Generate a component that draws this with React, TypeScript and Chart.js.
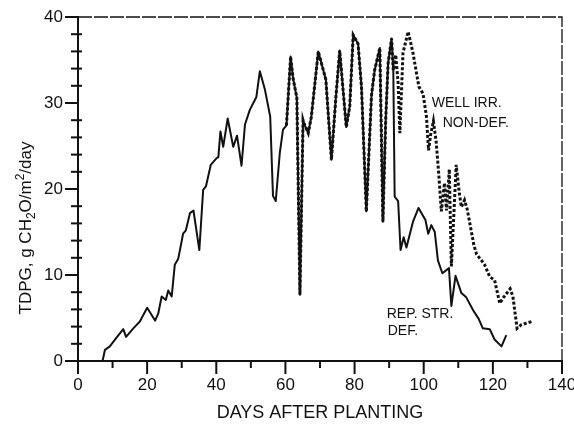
import React, { useEffect, useRef } from 'react';
import { Chart, registerables } from 'chart.js';

Chart.register(...registerables);

// REP. STR. DEF. (solid line)
const solidDays = [0, 7.1, 7.8, 9.2, 11.7, 13.1, 13.9, 16, 17.9, 20, 22.3, 23.2, 24.2, 25.4, 26.1, 27.1, 28, 29, 30.4, 31.2, 32.4, 33.4, 35.1, 36.2, 37, 38.4, 40.1, 40.6, 41.2, 42, 43.3, 44.9, 46, 47.3, 48.3, 49.7, 51.6, 52.6, 54.1, 55.6, 56.4, 57.2, 58.4, 59.3, 60.3, 61.5, 62.2, 63.3, 64.2, 65.1, 65.4, 66.6, 67.5, 69.5, 71.7, 73.3, 74.6, 75.7, 77.6, 78.6, 79.6, 81, 82, 83.4, 84.9, 85.8, 87.3, 88.2, 89, 89.7, 90.7, 91.2, 91.6, 92.6, 93.3, 94.2, 95, 96.9, 98.5, 100.5, 101.3, 102.2, 103.2, 104.1, 105.4, 107.3, 108, 109.2, 110.9, 112.3, 114.3, 115.9, 117.1, 119.1, 120.5, 122.5, 123.9];
const solidValues = [0, 0, 1.3, 1.7, 3.0, 3.7, 2.8, 3.8, 4.6, 6.2, 4.7, 5.5, 7.5, 7.1, 8.2, 7.5, 11.2, 11.9, 14.8, 15.2, 17.2, 17.5, 12.9, 19.9, 20.3, 22.8, 23.6, 23.7, 26.7, 24.9, 28.2, 24.9, 26.2, 22.7, 27.5, 29.2, 30.7, 33.7, 31.5, 28.4, 19.2, 18.6, 24.3, 26.9, 27.4, 35.4, 32.9, 30.6, 7.7, 28.0, 27.6, 26.5, 28.4, 36.0, 32.7, 23.4, 30.7, 36.1, 27.2, 29.6, 37.9, 36.9, 31.9, 17.4, 30.9, 33.8, 36.4, 16.2, 28.0, 34.6, 37.5, 33.8, 19.1, 18.6, 12.9, 14.4, 13.2, 16.2, 17.8, 16.4, 14.8, 15.8, 15.0, 11.7, 10.2, 10.8, 6.4, 9.9, 7.9, 7.4, 5.9, 4.9, 3.8, 3.7, 2.5, 1.7, 3.0];

// WELL IRR. NON-DEF. (dotted line)
const wellDays = [60.3, 61.5, 62.2, 63.3, 64.2, 65.1, 65.4, 66.6, 67.5, 69.5, 71.7, 73.3, 74.6, 75.7, 77.6, 78.6, 79.6, 81, 82, 83.4, 84.9, 85.8, 87.3, 88.2, 89, 89.7, 90.7, 91.2, 91.9, 92.6, 93.1, 94, 95.5, 96.9, 98.6, 99.8, 100.8, 101.4, 102, 102.8, 103.6, 104.3, 105.1, 106, 106.6, 107.4, 108, 109.4, 110.3, 110.9, 111.8, 112.6, 114.5, 115.3, 116.7, 117.6, 119.1, 120.5, 122, 122.9, 125, 125.8, 127, 128.2, 129.7, 131.3];
const wellValues = [27.4, 35.4, 32.9, 30.6, 7.7, 28.0, 27.6, 26.5, 28.4, 36.0, 32.7, 23.4, 30.7, 36.1, 27.2, 29.6, 37.9, 36.9, 31.9, 17.4, 30.9, 33.8, 36.4, 16.2, 28.0, 34.6, 37.5, 33.8, 35.6, 32.3, 26.5, 35.8, 38.3, 35.8, 31.9, 31.1, 28.4, 24.5, 26.3, 27.9, 25.5, 22.0, 17.4, 20.7, 17.5, 22.3, 11.0, 22.8, 19.5, 17.9, 18.7, 17.6, 13.5, 12.4, 11.7, 11.2, 9.8, 9.4, 6.7, 7.3, 8.4, 7.5, 3.8, 4.2, 4.4, 4.6];

const xLabelValues = [0, 20, 40, 60, 80, 100, 120, 140];
const yLabelValues = [0, 10, 20, 30, 40];

const xTitle = 'DAYS AFTER PLANTING';
const yTitleParts: [string, 'n' | 'sub' | 'sup'][] = [
  ['TDPG, g CH', 'n'],
  ['2', 'sub'],
  ['O/m', 'n'],
  ['2', 'sup'],
  ['/day', 'n'],
];

const annotations: { text: string; day: number; value: number }[] = [
  { text: 'WELL IRR.', day: 102.3, value: 29.5 },
  { text: 'NON-DEF.', day: 105.5, value: 27.2 },
  { text: 'REP. STR.', day: 89.3, value: 5.0 },
  { text: 'DEF.', day: 89.6, value: 3.0 },
];

const FONT = '"Liberation Sans", Arial, Helvetica, sans-serif';
const INK = '#111111';

const decorPlugin = {
  id: 'decor',
  afterDraw(chart: any) {
    const ctx: CanvasRenderingContext2D = chart.ctx;
    const { left, right, top, bottom } = chart.chartArea;
    const xs = chart.scales.x;
    const ys = chart.scales.y;
    ctx.save();
    ctx.strokeStyle = INK;
    ctx.fillStyle = INK;

    // top and right frame
    ctx.lineWidth = 1.3;
    ctx.setLineDash([14, 2]);
    ctx.beginPath();
    ctx.moveTo(left, top);
    ctx.lineTo(right, top);
    ctx.lineTo(right, bottom);
    ctx.stroke();
    ctx.setLineDash([]);

    // tick marks
    ctx.lineWidth = 2;
    xs.ticks.forEach((t: any) => {
      const px = xs.getPixelForValue(t.value);
      const major = t.value % 20 === 0;
      ctx.beginPath();
      ctx.moveTo(px, bottom);
      ctx.lineTo(px, bottom + (major ? 13 : 7));
      ctx.stroke();
    });
    ys.ticks.forEach((t: any) => {
      const py = ys.getPixelForValue(t.value);
      const major = t.value % 10 === 0;
      ctx.beginPath();
      ctx.moveTo(left - (major ? 13 : 7), py);
      ctx.lineTo(left + (major ? 0 : 4), py);
      ctx.stroke();
    });

    // y title with sub/superscripts
    const normal = `17px ${FONT}`;
    const small = `12px ${FONT}`;
    let total = 0;
    yTitleParts.forEach(([s, k]) => {
      ctx.font = k === 'n' ? normal : small;
      total += ctx.measureText(s).width;
    });
    ctx.save();
    ctx.translate(31, 228);
    ctx.rotate(-Math.PI / 2);
    ctx.textBaseline = 'alphabetic';
    ctx.textAlign = 'left';
    let cx = -total / 2;
    yTitleParts.forEach(([s, k]) => {
      ctx.font = k === 'n' ? normal : small;
      const dy = k === 'sub' ? 4 : k === 'sup' ? -7 : 0;
      ctx.fillText(s, cx, dy);
      cx += ctx.measureText(s).width;
    });
    ctx.restore();

    // curve labels
    ctx.font = `14px ${FONT}`;
    ctx.textAlign = 'left';
    ctx.textBaseline = 'alphabetic';
    annotations.forEach((a) => {
      ctx.fillText(a.text, xs.getPixelForValue(a.day), ys.getPixelForValue(a.value));
    });
    ctx.restore();
  },
};

export default function App() {
  const ref = useRef<HTMLCanvasElement | null>(null);

  useEffect(() => {
    document.body.style.margin = '0';
    if (!ref.current) return;
    const solid = solidDays.map((d, i) => ({ x: d, y: solidValues[i] }));
    const well = wellDays.map((d, i) => ({ x: d, y: wellValues[i] }));
    const chart = new Chart(ref.current, {
      type: 'line',
      data: {
        datasets: [
          {
            label: 'WELL IRR. NON-DEF.',
            data: well,
            borderColor: INK,
            borderWidth: 3,
            borderDash: [3, 2],
            pointRadius: 0,
            fill: false,
            tension: 0,
          },
          {
            label: 'REP. STR. DEF.',
            data: solid,
            borderColor: INK,
            borderWidth: 2,
            pointRadius: 0,
            fill: false,
            tension: 0,
            borderJoinStyle: 'round',
          },
        ],
      },
      options: {
        animation: false,
        responsive: false,
        devicePixelRatio: 1,
        events: [],
        layout: { padding: { left: 0, right: 12, top: 17, bottom: 0 } },
        plugins: { legend: { display: false }, tooltip: { enabled: false } },
        scales: {
          x: {
            type: 'linear',
            min: 0,
            max: 140,
            ticks: {
              stepSize: 10,
              color: INK,
              font: { family: FONT, size: 17 },
              padding: 14,
              maxRotation: 0,
              autoSkip: false,
              callback: (v: any) => (xLabelValues.includes(Number(v)) ? String(v) : ''),
            },
            grid: { display: false, drawTicks: false, drawOnChartArea: false },
            border: { display: true, color: INK, width: 2 },
            title: {
              display: true,
              text: xTitle,
              color: INK,
              font: { family: FONT, size: 18 },
              padding: { top: 0, bottom: 0 },
            },
            afterFit: (s: any) => {
              s.height = 63;
              s.paddingLeft = 0;
              s.paddingRight = 0;
            },
          },
          y: {
            type: 'linear',
            min: 0,
            max: 40,
            ticks: {
              stepSize: 2,
              color: INK,
              font: { family: FONT, size: 17 },
              padding: 15,
              autoSkip: false,
              callback: (v: any) => (yLabelValues.includes(Number(v)) ? String(v) : ''),
            },
            grid: { display: false, drawTicks: false, drawOnChartArea: false },
            border: { display: true, color: INK, width: 2 },
            afterFit: (s: any) => {
              s.width = 78;
              s.paddingTop = 0;
              s.paddingBottom = 0;
            },
          },
        },
      },
      plugins: [decorPlugin],
    });
    return () => chart.destroy();
  }, []);

  return (
    <div style={{ width: 574, height: 424, background: '#fff' }}>
      <canvas ref={ref} width={574} height={424} style={{ display: 'block' }} />
    </div>
  );
}
